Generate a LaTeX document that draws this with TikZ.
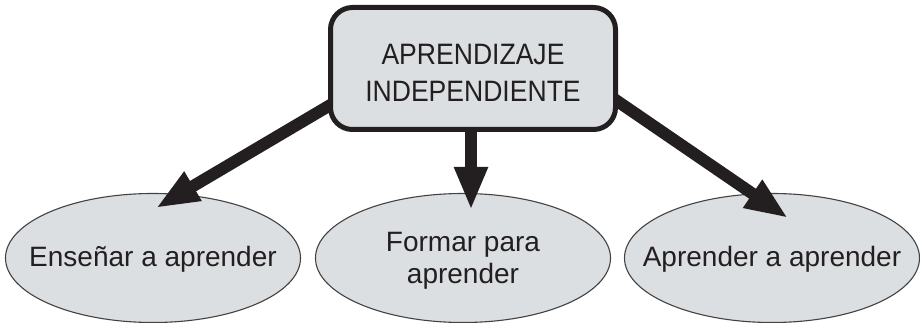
\documentclass[tikz,border=0pt]{standalone}
\usepackage{fontspec}
\setmainfont{Liberation Sans}
\newfontfamily\narrowfont[FakeStretch=0.9]{Liberation Sans}
\usetikzlibrary{arrows.meta,shapes.geometric,calc}
\definecolor{ink}{HTML}{231F20}
\definecolor{boxfill}{HTML}{DCDFE2}
\pgfdeclarelayer{front}
\pgfsetlayers{main,front}
\tikzset{
  topbox/.style={draw=ink, line width=5pt, fill=boxfill, rounded corners=22pt,
    minimum width=285pt, minimum height=122pt, inner sep=0pt},
  toptext/.style={align=center, inner sep=0pt,
    text=ink, font=\narrowfont\fontsize{29.5}{37}\selectfont},
  oval/.style={ellipse, draw=ink!85, line width=1.1pt, fill=boxfill,
    minimum width=295pt, minimum height=129pt, inner sep=0pt},
  ovaltext/.style={align=center, inner sep=0pt,
    text=ink, font=\fontsize{28}{32}\selectfont},
  bigarrow/.style={draw=ink, line width=12pt,
    -{Triangle[length=43pt,width=31pt]}}
}
\begin{document}
\begin{tikzpicture}[x=1pt,y=-1pt]
\useasboundingbox (0,0) rectangle (920,323);
\node[oval] (e1) at (153,258) {};
\node[oval] (e2) at (463,258) {};
\node[oval] (e3) at (772,258) {};
\node[ovaltext] (l1) at ($(e1)+(0,1)$) {Enseñar a aprender};
\node[ovaltext] (l2) at ($(e2)+(0,3)$) {Formar para\\aprender};
\node[ovaltext] (l3) at ($(e3)+(0,1)$) {Aprender a aprender};
\begin{pgfonlayer}{front}
\node[topbox] (top) at (473,68.5) {};
\node[toptext] (tt) at ($(top)+(0,4)$) {APRENDIZAJE\\INDEPENDIENTE};
\end{pgfonlayer}
\coordinate (s1) at ($(top.west)+(10,32)$);
\coordinate (s2) at (top.center);
\coordinate (s3) at ($(top.east)+(-6,29)$);
\coordinate (t1) at (156,208);
\coordinate (t2) at (471,210);
\coordinate (t3) at (788,218);
\draw[bigarrow] (s1) -- (t1);
\draw[bigarrow] (s2 -| t2) -- (t2);
\draw[bigarrow] (s3) -- (t3);
\end{tikzpicture}
\end{document}
